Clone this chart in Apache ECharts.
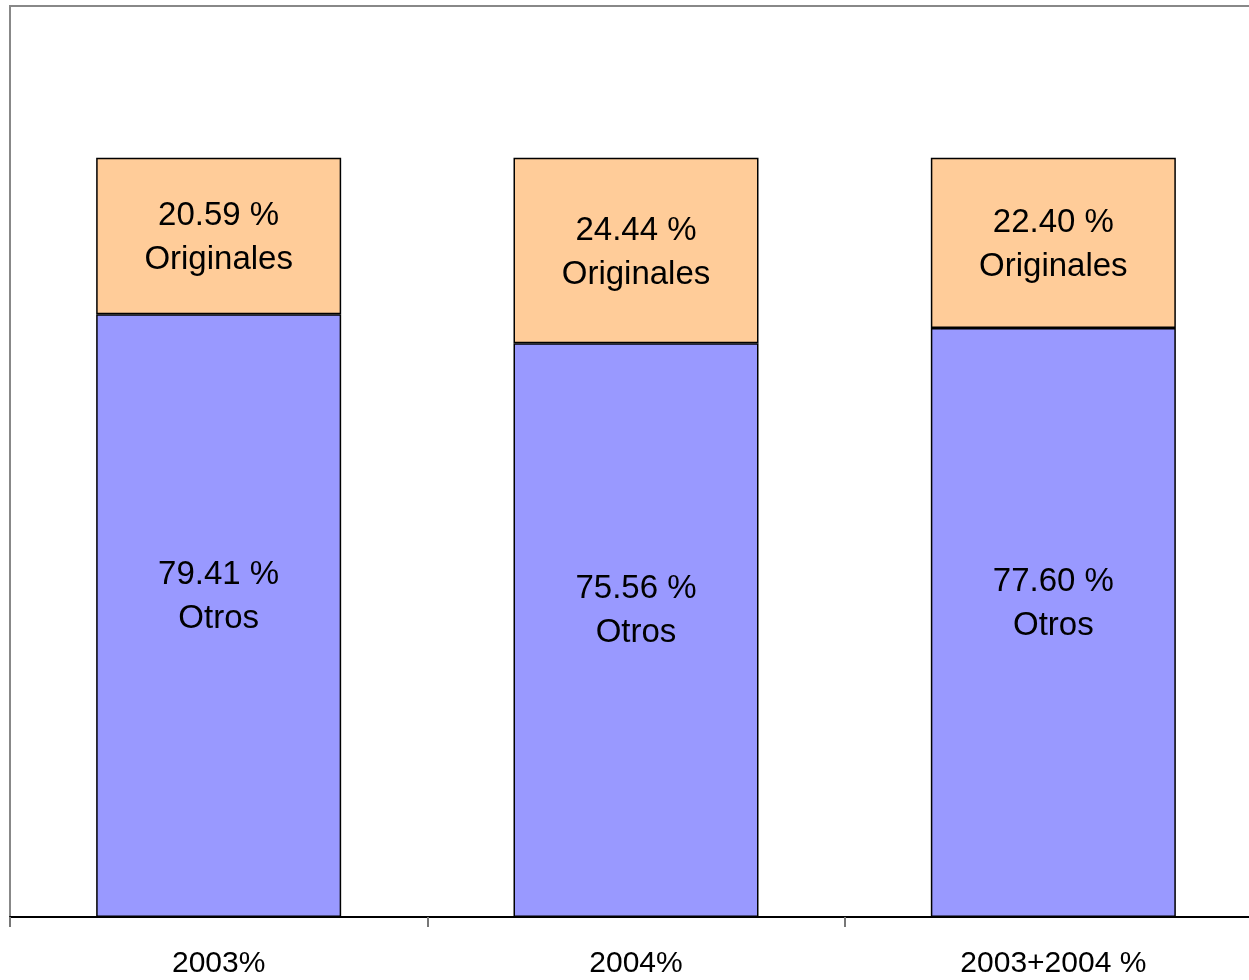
<!DOCTYPE html>
<html>
<head>
<meta charset="utf-8">
<script src="https://cdn.jsdelivr.net/npm/echarts@6/dist/echarts.min.js"></script>
<style>
  html, body { margin: 0; padding: 0; background: #fff; }
  #chart { width: 1249px; height: 980px; }
</style>
</head>
<body>
<div id="chart"></div>
<script>
// categorias y porcentajes
var categories = ['2003%', '2004%', '2003+2004 %'];
var otros = [79.41, 75.56, 77.60];
var originales = [20.59, 24.44, 22.40];

var chart = echarts.init(document.getElementById('chart'), null, { renderer: 'canvas' });

var labelStyle = {
  show: true,
  color: '#000',
  fontSize: 33,
  lineHeight: 44,
  fontFamily: 'Liberation Sans, Arial, sans-serif',
  formatter: function (p) {
    return p.value.toFixed(2) + ' %\n' + p.seriesName;
  }
};

var option = {
  animation: false,
  grid: {
    left: 10,
    top: 6,
    width: 1252,
    height: 911,
    outerBoundsMode: 'none',
    containLabel: false,
    show: true,
    borderColor: '#888',
    borderWidth: 2,
    backgroundColor: 'transparent'
  },
  xAxis: {
    type: 'category',
    data: categories,
    axisLine: { lineStyle: { color: '#000', width: 2 } },
    axisTick: { show: true, length: 10, lineStyle: { color: '#777', width: 2 } },
    axisLabel: {
      color: '#000',
      fontSize: 30,
      margin: 32,
      fontFamily: 'Liberation Sans, Arial, sans-serif'
    }
  },
  yAxis: {
    type: 'value',
    min: 0,
    max: 120,
    show: false,
    splitLine: { show: false }
  },
  series: [
    {
      name: 'Otros',
      type: 'bar',
      stack: 'total',
      barWidth: 245,
      data: otros,
      itemStyle: { color: '#9999FF', borderColor: '#000', borderWidth: 1.5 },
      label: Object.assign({}, labelStyle, { position: 'inside', offset: [0, -19] })
    },
    {
      name: 'Originales',
      type: 'bar',
      stack: 'total',
      barWidth: 245,
      data: originales,
      itemStyle: { color: '#FFCC99', borderColor: '#000', borderWidth: 1.5 },
      label: Object.assign({}, labelStyle, { position: 'inside', offset: [0, 2] })
    }
  ]
};

chart.setOption(option);
</script>
</body>
</html>
